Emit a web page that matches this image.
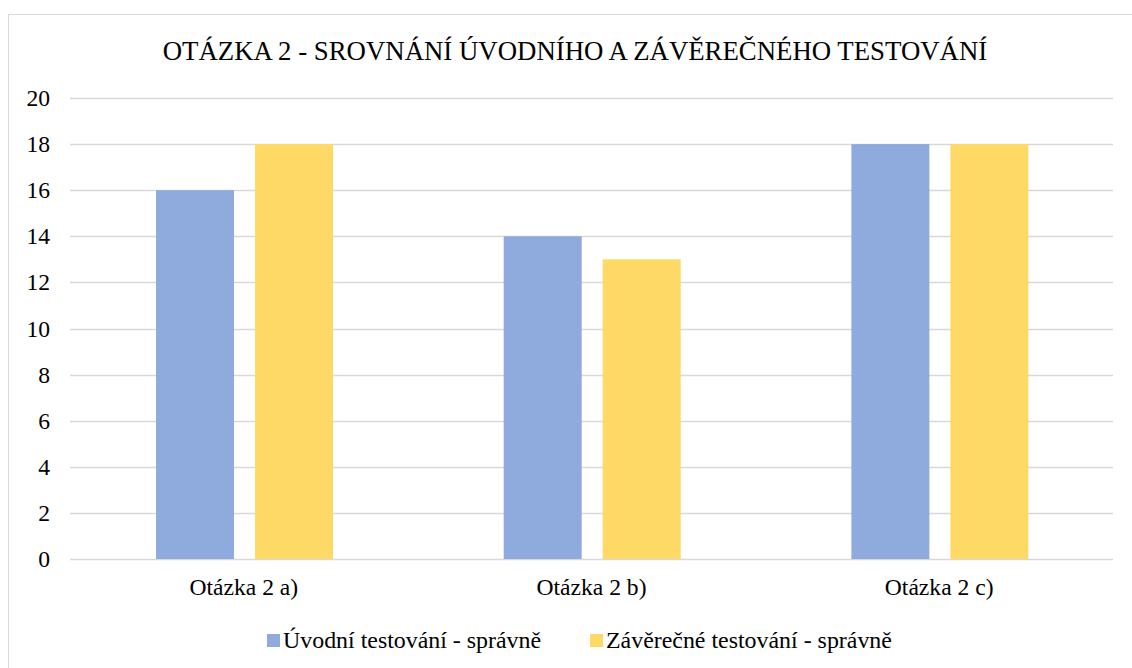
<!DOCTYPE html>
<html>
<head>
<meta charset="utf-8">
<script src="https://cdn.jsdelivr.net/npm/d3@7"></script>
<style>
  body { margin: 0; background: #fff; }
</style>
</head>
<body>
<div id="chart"></div>
<script>
const categories = ["Otázka 2 a)", "Otázka 2 b)", "Otázka 2 c)"];
const seriesNames = ["Úvodní testování - správně", "Závěrečné testování - správně"];
const uvodni = [16, 14, 18];
const zaverecne = [18, 13, 18];
const yTicks = [0, 2, 4, 6, 8, 10, 12, 14, 16, 18, 20];
const colors = ["#8FAADC", "#FFD966"];

const w = 1132;
const h = 668;
const margin = { left: 70, right: 19, top: 98, bottom: 109 };
const serif = '"Liberation Serif"';

const svg = d3
  .select("#chart")
  .append("svg")
  .attr("width", w)
  .attr("height", h);

// chart frame (right edge falls outside the picture)
svg
  .append("rect")
  .attr("x", 8.5)
  .attr("y", 14.5)
  .attr("width", 1200)
  .attr("height", 700)
  .attr("fill", "#fff")
  .attr("stroke", "#D9D9D9");

svg
  .append("text")
  .attr("x", 575)
  .attr("y", 60)
  .attr("text-anchor", "middle")
  .style("font-family", serif)
  .style("font-size", "26.8px")
  .text("OTÁZKA 2 - SROVNÁNÍ ÚVODNÍHO A ZÁVĚREČNÉHO TESTOVÁNÍ");

const x = d3
  .scaleBand()
  .domain(categories)
  .range([margin.left, w - margin.right]);

const y = d3
  .scaleLinear()
  .domain([0, 20])
  .range([h - margin.bottom, margin.top]);

svg
  .selectAll("line.grid")
  .data(yTicks)
  .join("line")
  .attr("class", "grid")
  .attr("x1", margin.left)
  .attr("x2", w - margin.right)
  .attr("y1", (d) => Math.round(y(d)) + 0.5)
  .attr("y2", (d) => Math.round(y(d)) + 0.5)
  .attr("stroke", "#D9D9D9")
  .attr("stroke-width", 1.5);

svg
  .selectAll("text.ytick")
  .data(yTicks)
  .join("text")
  .attr("class", "ytick")
  .attr("x", 50)
  .attr("y", (d) => y(d) + 8)
  .attr("text-anchor", "end")
  .style("font-family", serif)
  .style("font-size", "23.6px")
  .text((d) => d);

const series = [uvodni, zaverecne];
const barW = 78;
const gap = 21;

series.forEach((vals, si) => {
  svg
    .selectAll("rect.s" + si)
    .data(vals)
    .join("rect")
    .attr("class", "s" + si)
    .attr("x", (d, i) => {
      const c = x(categories[i]) + x.bandwidth() / 2 + 0.7;
      return c - (barW * 2 + gap) / 2 + si * (barW + gap);
    })
    .attr("y", (d) => y(d))
    .attr("width", barW)
    .attr("height", (d) => y(0) - y(d))
    .attr("fill", colors[si]);
});

svg
  .selectAll("text.xcat")
  .data(categories)
  .join("text")
  .attr("class", "xcat")
  .attr("x", (d) => x(d) + x.bandwidth() / 2)
  .attr("y", 595)
  .attr("text-anchor", "middle")
  .style("font-family", serif)
  .style("font-size", "23.6px")
  .text((d) => d);

// legend
const legendX = [267, 590];
const legend = svg
  .selectAll("g.legend")
  .data(seriesNames)
  .join("g")
  .attr("class", "legend")
  .attr("transform", (d, i) => `translate(${legendX[i]}, 634)`);

legend
  .append("rect")
  .attr("width", 13)
  .attr("height", 13)
  .attr("fill", (d, i) => colors[i]);

legend
  .append("text")
  .attr("x", 16)
  .attr("y", 14)
  .style("font-family", serif)
  .style("font-size", "23.9px")
  .text((d) => d);
</script>
</body>
</html>
